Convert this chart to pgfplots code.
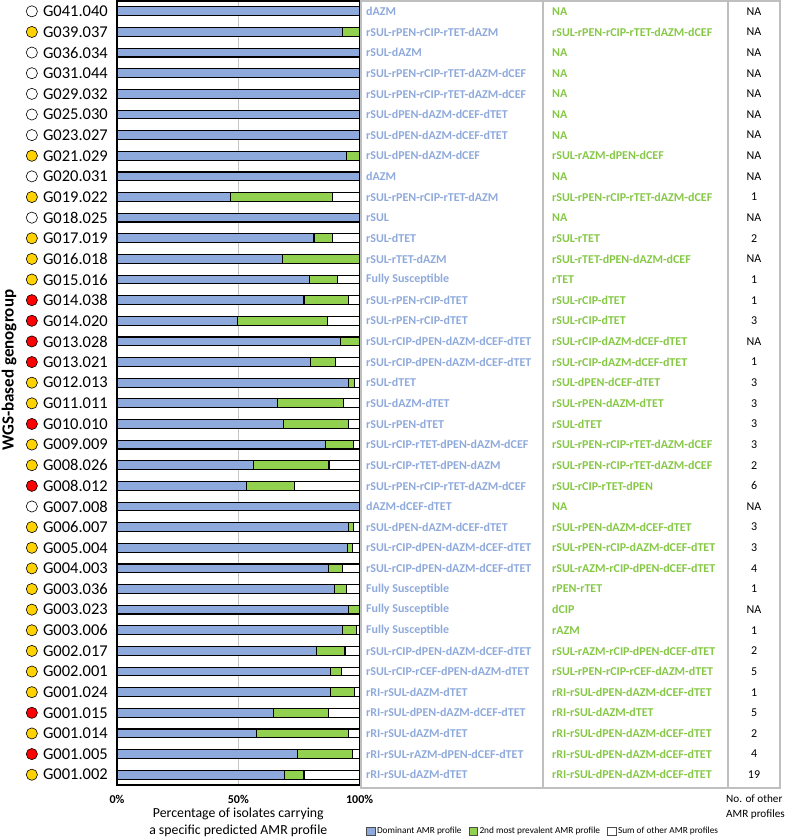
\documentclass[border=0pt]{standalone}
\usepackage{pgfplots}
\pgfplotsset{compat=1.18}
\usepackage{pgfplotstable}
\usepackage{fontspec}
\setmainfont{Carlito}
\definecolor{barblue}{HTML}{8EA9DB}
\definecolor{bargreen}{HTML}{92D050}
\definecolor{txtblue}{HTML}{8EA9DB}
\definecolor{txtgreen}{HTML}{86C846}
\definecolor{gold}{HTML}{FFD200}
\definecolor{tablegray}{HTML}{BFBFBF}

\pgfplotstableread[col sep=comma,row sep=\\]{
y,b,g,w\\
0,100,0,0\\
1,93.1,6.9,0\\
2,100,0,0\\
3,100,0,0\\
4,100,0,0\\
5,100,0,0\\
6,100,0,0\\
7,94.5,5.5,0\\
8,100,0,0\\
9,46.8,41.9,11.3\\
10,100,0,0\\
11,81.2,7.5,11.3\\
12,68.4,31.6,0\\
13,79.5,11.4,9.1\\
14,77.1,18.5,4.4\\
15,49.7,37.0,13.3\\
16,92.3,7.7,0\\
17,79.8,10.2,10.0\\
18,95.5,2.3,2.2\\
19,66.2,27.3,6.5\\
20,68.5,27.0,4.5\\
21,86.1,11.3,2.6\\
22,56.2,31.2,12.6\\
23,53.3,19.8,26.9\\
24,100,0,0\\
25,95.6,1.7,2.7\\
26,94.9,2.2,2.9\\
27,87.2,5.7,7.1\\
28,89.6,4.9,5.5\\
29,95.6,4.4,0\\
30,93.1,5.8,1.1\\
31,82.1,11.9,6.0\\
32,88.0,4.7,7.3\\
33,88.0,9.8,2.2\\
34,64.4,22.8,12.8\\
35,57.4,38.1,4.5\\
36,74.5,22.6,2.9\\
37,69.2,7.9,22.9\\
}\bars

\pgfplotstableread[col sep=comma,row sep=\\]{
y,dom,sec,n,c\\
0,dAZM,NA,NA,w\\
1,rSUL-rPEN-rCIP-rTET-dAZM,rSUL-rPEN-rCIP-rTET-dAZM-dCEF,NA,y\\
2,rSUL-dAZM,NA,NA,w\\
3,rSUL-rPEN-rCIP-rTET-dAZM-dCEF,NA,NA,w\\
4,rSUL-rPEN-rCIP-rTET-dAZM-dCEF,NA,NA,w\\
5,rSUL-dPEN-dAZM-dCEF-dTET,NA,NA,w\\
6,rSUL-dPEN-dAZM-dCEF-dTET,NA,NA,w\\
7,rSUL-dPEN-dAZM-dCEF,rSUL-rAZM-dPEN-dCEF,NA,y\\
8,dAZM,NA,NA,w\\
9,rSUL-rPEN-rCIP-rTET-dAZM,rSUL-rPEN-rCIP-rTET-dAZM-dCEF,1,y\\
10,rSUL,NA,NA,w\\
11,rSUL-dTET,rSUL-rTET,2,y\\
12,rSUL-rTET-dAZM,rSUL-rTET-dPEN-dAZM-dCEF,NA,y\\
13,Fully Susceptible,rTET,1,y\\
14,rSUL-rPEN-rCIP-dTET,rSUL-rCIP-dTET,1,r\\
15,rSUL-rPEN-rCIP-dTET,rSUL-rCIP-dTET,3,r\\
16,rSUL-rCIP-dPEN-dAZM-dCEF-dTET,rSUL-rCIP-dAZM-dCEF-dTET,NA,r\\
17,rSUL-rCIP-dPEN-dAZM-dCEF-dTET,rSUL-rCIP-dAZM-dCEF-dTET,1,r\\
18,rSUL-dTET,rSUL-dPEN-dCEF-dTET,3,y\\
19,rSUL-dAZM-dTET,rSUL-rPEN-dAZM-dTET,3,y\\
20,rSUL-rPEN-dTET,rSUL-dTET,3,r\\
21,rSUL-rCIP-rTET-dPEN-dAZM-dCEF,rSUL-rPEN-rCIP-rTET-dAZM-dCEF,3,y\\
22,rSUL-rCIP-rTET-dPEN-dAZM,rSUL-rPEN-rCIP-rTET-dAZM-dCEF,2,y\\
23,rSUL-rPEN-rCIP-rTET-dAZM-dCEF,rSUL-rCIP-rTET-dPEN,6,r\\
24,dAZM-dCEF-dTET,NA,NA,w\\
25,rSUL-dPEN-dAZM-dCEF-dTET,rSUL-rPEN-dAZM-dCEF-dTET,3,y\\
26,rSUL-rCIP-dPEN-dAZM-dCEF-dTET,rSUL-rPEN-rCIP-dAZM-dCEF-dTET,3,y\\
27,rSUL-rCIP-dPEN-dAZM-dCEF-dTET,rSUL-rAZM-rCIP-dPEN-dCEF-dTET,4,y\\
28,Fully Susceptible,rPEN-rTET,1,y\\
29,Fully Susceptible,dCIP,NA,y\\
30,Fully Susceptible,rAZM,1,y\\
31,rSUL-rCIP-dPEN-dAZM-dCEF-dTET,rSUL-rAZM-rCIP-dPEN-dCEF-dTET,2,y\\
32,rSUL-rCIP-rCEF-dPEN-dAZM-dTET,rSUL-rPEN-rCIP-rCEF-dAZM-dTET,5,y\\
33,rRI-rSUL-dAZM-dTET,rRI-rSUL-dPEN-dAZM-dCEF-dTET,1,y\\
34,rRI-rSUL-dPEN-dAZM-dCEF-dTET,rRI-rSUL-dAZM-dTET,5,r\\
35,rRI-rSUL-dAZM-dTET,rRI-rSUL-dPEN-dAZM-dCEF-dTET,2,y\\
36,rRI-rSUL-rAZM-dPEN-dCEF-dTET,rRI-rSUL-dPEN-dAZM-dCEF-dTET,4,r\\
37,rRI-rSUL-dAZM-dTET,rRI-rSUL-dPEN-dAZM-dCEF-dTET,19,y\\
}\info

\begin{document}
\begin{tikzpicture}
\path[use as bounding box] (0pt,0pt) rectangle (787pt,-837pt);
\begin{axis}[
  at={(117pt,-1pt)}, anchor=north west,
  scale only axis, width=242.6pt, height=784pt,
  xbar stacked, bar width=8.8pt,
  xmin=0, xmax=100, ymin=-0.5, ymax=37.5, y dir=reverse,
  ytick={0,...,37},
  yticklabels={G041.040,G039.037,G036.034,G031.044,G029.032,G025.030,G023.027,G021.029,G020.031,G019.022,G018.025,G017.019,G016.018,G015.016,G014.038,G014.020,G013.028,G013.021,G012.013,G011.011,G010.010,G009.009,G008.026,G008.012,G007.008,G006.007,G005.004,G004.003,G003.036,G003.023,G003.006,G002.017,G002.001,G001.024,G001.015,G001.014,G001.005,G001.002},
  xtick={0,50,100}, xticklabels={0\%,50\%,100\%},
  major tick length=0pt,
  xmajorgrids, major grid style={gray!45, line width=1pt},
  axis line style={black, line width=1.2pt},
  yticklabel style={font=\fontsize{16.5}{18}\selectfont, inner sep=0pt, xshift=-9pt},
  xticklabel style={font=\bfseries\fontsize{12}{14}\selectfont, inner sep=0pt, yshift=-10pt},
  ylabel={WGS-based genogroup},
  ylabel style={font=\bfseries\fontsize{17}{19}\selectfont, at={(axis description cs:-0.445,0.529)}, anchor=center},
  xlabel={Percentage of isolates carrying\\a specific predicted AMR profile},
  xlabel style={font=\fontsize{13.8}{17}\selectfont, align=center, at={(axis description cs:0.5,-0.0475)}, anchor=center},
  legend style={at={(axis description cs:1.026,-0.0587)}, anchor=west, draw=none, fill=none,
    legend columns=3, font=\fontsize{9.3}{11}\selectfont, inner sep=0pt,
    /tikz/every even column/.append style={column sep=5pt}},
  legend image code/.code={\draw[#1, draw=black!70, line width=0.5pt] (0pt,-4.2pt) rectangle (8.4pt,4.2pt);},
  clip=false,
]
\addplot[fill=barblue, draw=black, line width=1.1pt] table[x=b, y=y]{\bars};
\addplot[fill=bargreen, draw=black, line width=1.1pt] table[x=g, y=y]{\bars};
\addplot[fill=white, draw=black, line width=1.1pt] table[x=w, y=y]{\bars};
\legend{Dominant AMR profile, 2nd most prevalent AMR profile, Sum of other AMR profiles}
\end{axis}
\begin{axis}[
  at={(117pt,-1pt)}, anchor=north west,
  scale only axis, width=242.6pt, height=784pt,
  xmin=0, xmax=100, ymin=-0.5, ymax=37.5, y dir=reverse,
  hide axis, clip=false,
]
\addplot[scatter, only marks, point meta=explicit symbolic, mark size=5.6pt,
  scatter/classes={w={mark=*, fill=white, draw=black, line width=0.6pt},
                   y={mark=*, fill=gold, draw=black, line width=0.6pt},
                   r={mark=*, fill=red, draw=black, line width=0.6pt}}]
  table[x expr=-35.1, y=y, meta=c]{\info};
\addplot[draw=none, mark=none, nodes near coords, point meta=explicit symbolic,
  every node near coord/.append style={anchor=west, inner sep=0pt, font=\bfseries\fontsize{12}{14}\selectfont, text=txtblue}]
  table[x expr=102.6, y=y, meta=dom]{\info};
\addplot[draw=none, mark=none, nodes near coords, point meta=explicit symbolic,
  every node near coord/.append style={anchor=west, inner sep=0pt, font=\bfseries\fontsize{12}{14}\selectfont, text=txtgreen}]
  table[x expr=179.3, y=y, meta=sec]{\info};
\addplot[draw=none, mark=none, nodes near coords, point meta=explicit symbolic,
  every node near coord/.append style={anchor=center, inner sep=0pt, font=\fontsize{12}{14}\selectfont, text=black}]
  table[x expr=262.6, y=y, meta=n]{\info};
\end{axis}
\draw[tablegray, line width=1.8pt] (361pt,-1pt) rectangle (780pt,-788pt);
\draw[tablegray, line width=1.8pt] (543pt,-1pt) -- (543pt,-788pt);
\draw[tablegray, line width=1.8pt] (728pt,-1pt) -- (728pt,-788pt);
\node[anchor=west, align=left, font=\fontsize{11.2}{15}\selectfont, inner sep=0pt] at (726pt,-807pt) {No. of other\\AMR profiles};
\end{tikzpicture}
\end{document}
